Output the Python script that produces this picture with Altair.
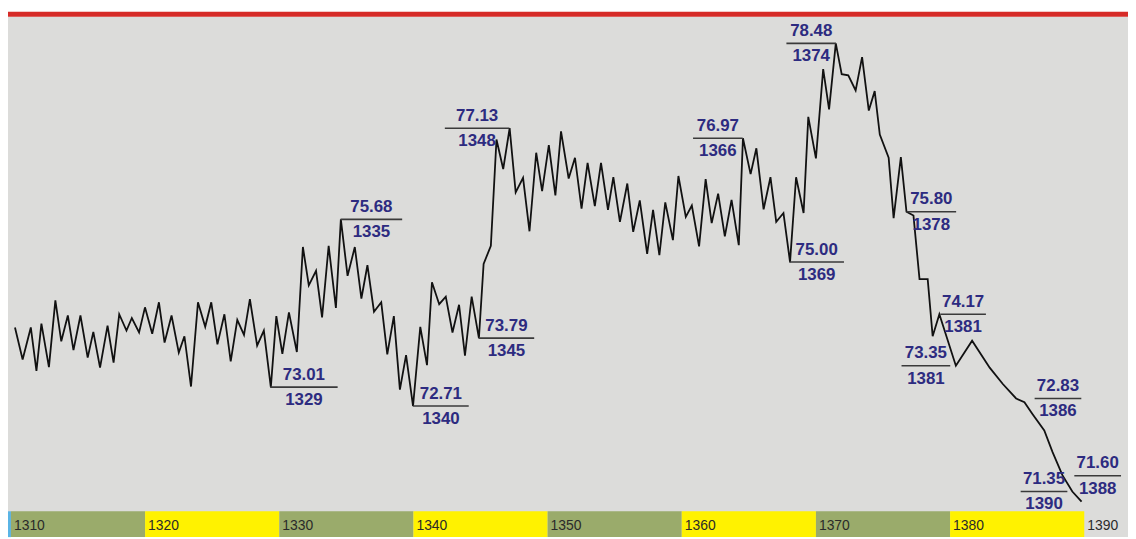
import altair as alt
import pandas as pd

# ---- main series (year position, value) ----
years = [1310.30, 1310.87, 1311.48, 1311.90, 1312.27, 1312.83, 1313.31, 1313.75, 1314.24, 1314.66,
         1315.18, 1315.72, 1316.14, 1316.64, 1317.20, 1317.65, 1318.07, 1318.61, 1319.01, 1319.55,
         1319.99, 1320.53, 1321.03, 1321.45, 1321.97, 1322.51, 1322.93, 1323.42, 1323.94, 1324.48,
         1324.93, 1325.39, 1325.91, 1326.38, 1326.87, 1327.37, 1327.81, 1328.35, 1328.85, 1329.37,
         1329.78, 1330.23, 1330.72, 1331.31, 1331.76, 1332.20, 1332.74, 1333.19, 1333.68, 1334.22,
         1334.59, 1335.09, 1335.63, 1336.12, 1336.57, 1337.06, 1337.60, 1338.05, 1338.54, 1338.99,
         1339.45, 1339.97, 1340.51, 1341.01, 1341.38, 1341.92, 1342.41, 1342.91, 1343.40, 1343.84,
         1344.34, 1344.88, 1345.23, 1345.77, 1346.19, 1346.69, 1347.17, 1347.62, 1348.17, 1348.65,
         1349.15, 1349.59, 1350.09, 1350.58, 1351.00, 1351.57, 1352.04, 1352.53, 1352.98, 1353.52,
         1353.98, 1354.50, 1354.90, 1355.39, 1355.94, 1356.38, 1356.87, 1357.42, 1357.86, 1358.33,
         1358.77, 1359.34, 1359.75, 1360.30, 1360.75, 1361.29, 1361.78, 1362.23, 1362.71, 1363.21,
         1363.71, 1364.25, 1364.56, 1365.13, 1365.56, 1366.10, 1366.61, 1367.04, 1367.58, 1368.07,
         1368.52, 1369.08, 1369.43, 1370.00, 1370.54, 1370.98, 1371.48, 1371.92, 1372.41, 1372.96,
         1373.44, 1373.94, 1374.38, 1374.76, 1375.42, 1375.79, 1376.33, 1376.75, 1377.27, 1377.72,
         1378.33, 1378.70, 1379.20, 1380.43, 1381.64, 1382.95, 1383.93, 1384.92, 1385.54, 1386.15,
         1387.02, 1387.63, 1388.37, 1389.11, 1389.80]
values = [73.96, 73.45, 73.96, 73.27, 74.02, 73.33, 74.39, 73.74, 74.15, 73.60,
          74.15, 73.48, 73.89, 73.32, 73.99, 73.40, 74.17, 73.91, 74.11, 73.88,
          74.28, 73.86, 74.36, 73.72, 74.15, 73.56, 73.82, 73.02, 74.36, 73.97,
          74.36, 73.69, 74.17, 73.42, 74.08, 73.84, 74.41, 73.67, 73.91, 73.01,
          74.14, 73.54, 74.20, 73.57, 75.24, 74.63, 74.86, 74.12, 75.26, 74.27,
          75.68, 74.78, 75.24, 74.42, 74.95, 74.21, 74.36, 73.53, 74.14, 72.97,
          73.52, 72.71, 73.97, 73.36, 74.68, 74.33, 74.45, 73.88, 74.32, 73.51,
          74.45, 73.79, 74.97, 75.26, 76.95, 76.48, 77.13, 76.11, 76.34, 75.49,
          76.74, 76.13, 76.86, 76.06, 77.08, 76.33, 76.66, 75.85, 76.58, 75.89,
          76.58, 75.83, 76.35, 75.64, 76.25, 75.48, 75.98, 75.13, 75.83, 75.11,
          75.95, 75.35, 76.37, 75.72, 75.90, 75.25, 76.32, 75.62, 76.09, 75.41,
          75.99, 75.27, 76.97, 76.40, 76.81, 75.84, 76.35, 75.64, 75.78, 75.00,
          76.35, 75.78, 77.31, 76.65, 78.07, 77.43, 78.48, 77.99, 77.97, 77.73,
          78.26, 77.41, 77.72, 77.03, 76.66, 75.70, 76.67, 75.80, 75.74, 74.73,
          74.73, 73.82, 74.17, 73.35, 73.75, 73.32, 73.06, 72.83, 72.77, 72.58,
          72.32, 71.98, 71.61, 71.35, 71.19]

# ---- annotations ----
ann_values = [73.01, 75.68, 72.71, 73.79, 77.13, 76.97, 75.00, 78.48, 75.80, 74.17, 73.35, 72.83, 71.60, 71.35]
ann_years = ["1329", "1335", "1340", "1345", "1348", "1366", "1369", "1374", "1378", "1381", "1381", "1386", "1388", "1390"]
ann_x1 = [1329.32, 1334.57, 1339.97, 1344.86, 1342.34, 1360.84, 1368.02, 1367.80, 1376.75, 1379.27, 1376.38, 1386.30, 1389.26, 1385.26]
ann_x2 = [1334.35, 1339.16, 1344.12, 1349.00, 1347.15, 1364.54, 1372.09, 1371.50, 1380.45, 1382.67, 1380.01, 1389.78, 1392.74, 1388.74]

# ---- decade band ----
band_start = [1309.78, 1310, 1320, 1330, 1340, 1350, 1360, 1370, 1380]
band_end = [1310, 1320, 1330, 1340, 1350, 1360, 1370, 1380, 1390]
band_colors = ["#5ab4e5", "#9aab6b", "#fff200", "#9aab6b", "#fff200", "#9aab6b", "#fff200", "#9aab6b", "#fff200"]
band_labels = ["1310", "1320", "1330", "1340", "1350", "1360", "1370", "1380", "1390"]
band_label_pos = [1310, 1320, 1330, 1340, 1350, 1360, 1370, 1380, 1390]

W, H = 1128, 524
xs = alt.Scale(domain=[1309.78, 1393.26], nice=False, zero=False)
ys = alt.Scale(domain=[70.624, 78.902], nice=False, zero=False)

line_df = pd.DataFrame({"year": years, "value": values})
ann_df = pd.DataFrame({"v": ann_values, "lab": ann_years, "x1": ann_x1, "x2": ann_x2})
band_df = pd.DataFrame({"start": band_start, "end": band_end, "color": band_colors})
lab_df = pd.DataFrame({"pos": band_label_pos, "label": band_labels})

red = alt.Chart(pd.DataFrame({"a": [0]})).mark_rule(color="#d62b27", strokeWidth=5).encode(
    x=alt.value(0), x2=alt.value(W), y=alt.value(-2.5))

line = alt.Chart(line_df).mark_line(color="#111111", strokeWidth=1.8, strokeJoin="miter").encode(
    x=alt.X("year:Q", scale=xs, axis=None),
    y=alt.Y("value:Q", scale=ys, axis=None))

ann_rule = alt.Chart(ann_df).mark_rule(color="#3a3a3a", strokeWidth=1.6).encode(
    x=alt.X("x1:Q", scale=xs, axis=None), x2="x2:Q",
    y=alt.Y("v:Q", scale=ys, axis=None))

ann_base = alt.Chart(ann_df).transform_calculate(xm="(datum.x1 + datum.x2) / 2")
ann_val = ann_base.mark_text(font="Liberation Sans", fontSize=17, fontWeight="bold", color="#2d2b80",
                             baseline="middle", dy=-12.5).encode(
    x=alt.X("xm:Q", scale=xs, axis=None), y=alt.Y("v:Q", scale=ys, axis=None),
    text=alt.Text("v:Q", format=".2f"))
ann_yr = ann_base.mark_text(font="Liberation Sans", fontSize=17, fontWeight="bold", color="#2d2b80",
                            baseline="middle", dy=13).encode(
    x=alt.X("xm:Q", scale=xs, axis=None), y=alt.Y("v:Q", scale=ys, axis=None),
    text="lab:N")

band = alt.Chart(band_df).mark_rect().encode(
    x=alt.X("start:Q", scale=xs, axis=None), x2="end:Q",
    y=alt.value(498), y2=alt.value(H),
    color=alt.Color("color:N", scale=None))

band_text = alt.Chart(lab_df).mark_text(font="Liberation Sans", fontSize=14, color="#2a2a2a",
                                        align="left", baseline="middle", dx=3).encode(
    x=alt.X("pos:Q", scale=xs, axis=None), y=alt.value(513), text="label:N")

chart = alt.layer(red, line, ann_rule, ann_val, ann_yr, band, band_text).properties(
    width=W, height=H,
    padding={"left": 0, "top": 7, "right": 0, "bottom": 0},
    autosize=alt.AutoSizeParams(type="none"),
    background="white",
).configure_view(fill="#dcdcda", strokeWidth=0)

chart.save("out.html", embed_options={"renderer": "svg", "actions": False})
